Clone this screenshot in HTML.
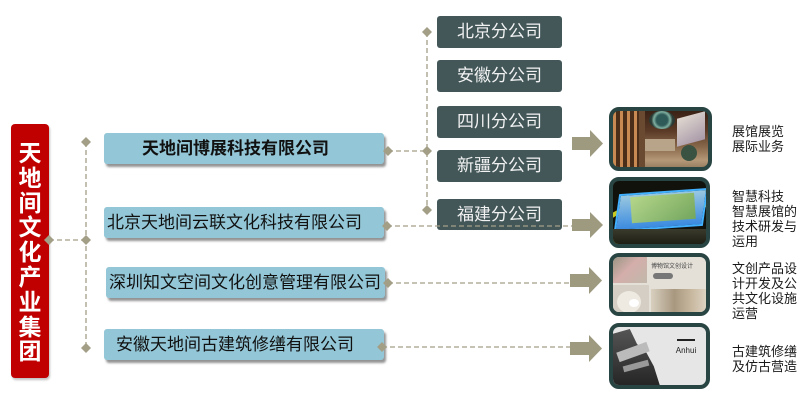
<!DOCTYPE html>
<html><head><meta charset="utf-8">
<style>
*{margin:0;padding:0;box-sizing:border-box}
html,body{width:805px;height:418px;background:#fff;overflow:hidden}
body{position:relative;font-family:"Liberation Sans","Noto Sans CJK SC","WenQuanYi Zen Hei",sans-serif}
.abs{position:absolute}
.red{left:11px;top:124px;width:38px;height:254px;background:#c00000;border-radius:4px;box-shadow:1px 2px 2px rgba(0,0,0,.25);color:#fff;font-weight:bold;font-size:23px;line-height:24.8px;text-align:center;padding-top:17px}
.sub{background:#93c6d6;border-radius:3px;box-shadow:2px 3px 2px rgba(60,60,60,.55);height:31px}
.sub span{position:absolute;top:0;line-height:31px;font-size:17px;color:#111;white-space:nowrap}
.br{left:437px;width:125px;height:32px;background:#435759;border-radius:3px;color:#f2f2f2;font-size:17px;line-height:32px;text-align:center}
.img{border:4px solid #294543;border-radius:10px;overflow:hidden}
.desc{left:732px;font-size:13px;line-height:15px;color:#1a1a1a;white-space:nowrap}
</style></head><body>

<div class="abs red">天<br>地<br>间<br>文<br>化<br>产<br>业<br>集<br>团</div>

<div class="abs sub" style="left:104px;top:133px;width:280px"><span style="left:38px;font-weight:bold">天地间博展科技有限公司</span></div>
<div class="abs sub" style="left:104px;top:207px;width:280px"><span style="left:3px">北京天地间云联文化科技有限公司</span></div>
<div class="abs sub" style="left:106px;top:267px;width:279px"><span style="left:3px">深圳知文空间文化创意管理有限公司</span></div>
<div class="abs sub" style="left:104px;top:329px;width:280px"><span style="left:12px">安徽天地间古建筑修缮有限公司</span></div>

<div class="abs br" style="top:16px">北京分公司</div>
<div class="abs br" style="top:60px">安徽分公司</div>
<div class="abs br" style="top:106px">四川分公司</div>
<div class="abs br" style="top:150px">新疆分公司</div>
<div class="abs br" style="top:199px;height:31px">福建分公司</div>

<svg class="abs" style="left:0;top:0" width="805" height="418" viewBox="0 0 805 418">
<g stroke="#a39f87" stroke-width="1.3" stroke-dasharray="5,3" fill="none">
<line x1="49" y1="240" x2="86" y2="240"/>
<line x1="86" y1="142" x2="86" y2="348"/>
<line x1="388" y1="151" x2="427" y2="151"/>
<line x1="427" y1="32" x2="427" y2="210"/>
<line x1="387" y1="226" x2="572" y2="226"/>
<line x1="388" y1="283" x2="572" y2="283"/>
<line x1="382" y1="347" x2="572" y2="347"/>
</g>
<g fill="#a39f87">
<path d="M49 235 L54 240 L49 245 L44 240Z"/>
<path d="M86 235 L91 240 L86 245 L81 240Z"/>
<path d="M86 137 L91 142 L86 147 L81 142Z"/>
<path d="M86 343 L91 348 L86 353 L81 348Z"/>
<path d="M388 146 L393 151 L388 156 L383 151Z"/>
<path d="M427 146 L432 151 L427 156 L422 151Z"/>
<path d="M427 27 L432 32 L427 37 L422 32Z"/>
<path d="M427 205 L432 210 L427 215 L422 210Z"/>
<path d="M387 221 L392 226 L387 231 L382 226Z"/>
<path d="M388 278 L393 283 L388 288 L383 283Z"/>
<path d="M382 342 L387 347 L382 352 L377 347Z"/>
</g>
<g fill="#9d9a80">
<path d="M572 137 L590 137 L590 130 L603 143.5 L590 157 L590 150 L572 150Z"/>
<path d="M572 219 L590 219 L590 212 L603 225 L590 238 L590 231 L572 231Z"/>
<path d="M570 274 L589 274 L589 267 L602 280.5 L589 294 L589 287 L570 287Z"/>
<path d="M570 342 L589 342 L589 335 L602 348.5 L589 362 L589 355 L570 355Z"/>
</g>
</svg>

<!-- image 1: interior -->
<div class="abs img" style="left:609px;top:107px;width:103px;height:64px;background:linear-gradient(180deg,#3a2216 0%,#5a3a26 35%,#8a6a4c 65%,#b49878 88%,#9a8062 100%)">
  <div class="abs" style="left:0;top:0;width:26px;height:56px;background:repeating-linear-gradient(90deg,#c88a52 0 3px,#4a2e1a 3px 7px)"></div>
  <div class="abs" style="left:26px;top:0;width:6px;height:56px;background:#6a4a30"></div>
  <div class="abs" style="left:36px;top:0;width:26px;height:18px;border-radius:50%;background:radial-gradient(circle,#2e5a58 35%,#7fb0a0 52%,#2a3a34 68%)"></div>
  <div class="abs" style="left:64px;top:4px;width:28px;height:28px;background:linear-gradient(160deg,#e0d8d0,#a898a8);transform:skewY(-15deg)"></div>
  <div class="abs" style="left:32px;top:28px;width:30px;height:12px;background:#b8a488"></div>
  <div class="abs" style="left:68px;top:34px;width:16px;height:16px;border-radius:50%;background:#3a5242"></div>
</div>

<!-- image 2: model -->
<div class="abs img" style="left:609px;top:177px;width:101px;height:71px;background:#12120c">
  <div class="abs" style="left:-14px;top:18px;width:125px;height:50px;border-radius:50%;border:5px solid #c8c81e;transform:rotate(-6deg)"></div>
  <div class="abs" style="left:4px;top:10px;width:88px;height:38px;background:linear-gradient(180deg,#9ac8e0,#3a8ae0);transform:skewX(-12deg) rotate(-4deg);border:2px solid #40b0ff"></div>
  <div class="abs" style="left:18px;top:14px;width:64px;height:26px;background:linear-gradient(135deg,#b8d880,#78a850);opacity:.9;transform:rotate(-4deg)"></div>
  <div class="abs" style="left:0;top:48px;width:101px;height:20px;background:linear-gradient(180deg,#3a3a2c,#16160e)"></div>
</div>

<!-- image 3: cultural products -->
<div class="abs img" style="left:609px;top:253px;width:101px;height:63px;background:#e4e0d8">
  <div class="abs" style="left:0;top:0;width:34px;height:26px;background:linear-gradient(135deg,#9a9484,#d4aeaa 45%,#c0b8aa)"></div>
  <div class="abs" style="left:38px;top:6px;width:58px;height:8px;color:#444;font-size:6px;line-height:8px;white-space:nowrap">博物馆文创设计</div>
  <div class="abs" style="left:40px;top:16px;width:20px;height:6px;background:#777;border-radius:3px"></div>
  <div class="abs" style="left:0;top:28px;width:36px;height:30px;background:#d4cec4"></div>
  <div class="abs" style="left:4px;top:34px;width:24px;height:22px;border-radius:50%;background:#eeeae2"></div>
  <div class="abs" style="left:16px;top:42px;width:10px;height:8px;border-radius:50%;background:#fff"></div>
  <div class="abs" style="left:38px;top:32px;width:58px;height:24px;background:linear-gradient(90deg,#d8d0c0,#a89880 40%,#c8b8a0 70%,#e0d8c8)"></div>
</div>

<!-- image 4: Anhui -->
<div class="abs img" style="left:609px;top:323px;width:101px;height:66px;background:#e6e6e6">
  <div class="abs" style="left:0;top:2px;width:48px;height:60px;background:linear-gradient(180deg,#555,#222);clip-path:polygon(0 8%,35% 0,50% 25%,70% 40%,85% 62%,100% 100%,0 100%)"></div>
  <div class="abs" style="left:4px;top:20px;width:32px;height:10px;background:#bbb;transform:rotate(-20deg)"></div>
  <div class="abs" style="left:10px;top:36px;width:26px;height:6px;background:#999;transform:rotate(-15deg)"></div>
  <div class="abs" style="left:64px;top:12px;width:18px;height:2px;background:#222"></div>
  <div class="abs" style="left:60px;top:19px;width:26px;height:12px;font-size:8px;line-height:10px;color:#222;text-align:center">Anhui</div>
</div>

<div class="abs desc" style="top:124px">展馆展览<br>展际业务</div>
<div class="abs desc" style="top:189px">智慧科技<br>智慧展馆的<br>技术研发与<br>运用</div>
<div class="abs desc" style="top:261px">文创产品设<br>计开发及公<br>共文化设施<br>运营</div>
<div class="abs desc" style="top:344px">古建筑修缮<br>及仿古营造</div>

</body></html>
